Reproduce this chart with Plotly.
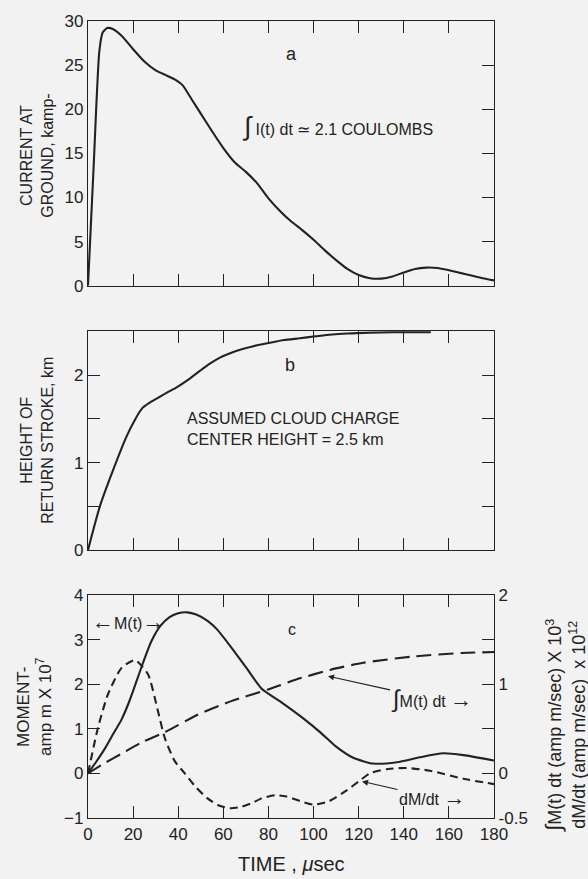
import plotly.graph_objects as go

# ---------------- data ----------------
# panel a: current at ground (kA) vs time (microsec)
t_a = [0, 2.5, 5, 6.5, 8.5, 11, 15, 20, 25, 30, 35, 39, 42, 46, 50, 55, 60, 65, 70, 75, 80,
       85, 90, 95, 100, 105, 110, 115, 120, 125, 130, 135, 140, 145, 150, 155, 160, 165, 170,
       175, 180]
I_a = [0, 13.5, 26.5, 28.7, 29.2, 29.1, 28.3, 26.8, 25.4, 24.4, 23.8, 23.3, 22.7, 21.1, 19.5,
       17.5, 15.6, 14.0, 12.9, 11.6, 9.9, 8.5, 7.3, 6.3, 5.2, 4.0, 2.9, 1.9, 1.2, 0.85, 0.8,
       1.05, 1.5, 1.9, 2.05, 2.0, 1.75, 1.45, 1.15, 0.85, 0.6]

# panel b: height of return stroke (km)
t_b = [0, 2, 5.3, 11.2, 17.1, 21, 24, 27, 31, 35, 39.3, 44, 49.7, 54, 58.5, 63, 68.9, 75,
       80.7, 87, 94, 100, 107, 115, 125, 135, 145, 152]
h_b = [0, 0.2, 0.505, 0.92, 1.30, 1.50, 1.62, 1.68, 1.74, 1.80, 1.86, 1.94, 2.05, 2.13, 2.20,
       2.25, 2.30, 2.34, 2.37, 2.40, 2.42, 2.44, 2.46, 2.475, 2.485, 2.49, 2.49, 2.49]

# panel c: moment M(t) (amp m x 1e7)
t_M = [0, 3.5, 7.4, 11, 14.8, 17.8, 20.7, 24.4, 28, 32, 36, 40, 44, 48, 53, 57, 63, 70, 77,
       85, 95, 103, 110, 117.6, 126.5, 137, 147, 157.5, 166.4, 180]
M_t = [0, 0.25, 0.55, 0.87, 1.2, 1.55, 1.95, 2.48, 2.95, 3.3, 3.5, 3.59, 3.61, 3.56, 3.42,
       3.24, 2.86, 2.38, 1.9, 1.62, 1.25, 0.92, 0.6, 0.35, 0.22, 0.25, 0.36, 0.45, 0.41, 0.29]

# panel c: dM/dt (right axis units)
t_d = [0, 4.4, 8.9, 14.8, 20.8, 26.6, 31, 34, 38.4, 42.9, 48, 53, 58, 63, 67, 72, 77, 83, 88,
       94, 100, 107, 114.7, 120, 125, 133, 141.3, 151.6, 166.4, 180]
dM_dt = [0, 0.51, 0.89, 1.18, 1.27, 1.11, 0.70, 0.40, 0.14, 0.0, -0.16, -0.28, -0.36, -0.39,
         -0.38, -0.34, -0.28, -0.245, -0.26, -0.31, -0.35, -0.31, -0.19, -0.09, 0.0, 0.05,
         0.06, 0.03, -0.06, -0.12]

# panel c: integral of M(t) dt (right axis units)
t_i = [0, 7, 14.8, 24, 34, 48.8, 63.5, 79.8, 92, 107.3, 122, 144, 166, 180]
int_M = [0, 0.11, 0.22, 0.35, 0.46, 0.66, 0.81, 0.94, 1.05, 1.16, 1.24, 1.31, 1.35, 1.36]

x_ticks = [0, 20, 40, 60, 80, 100, 120, 140, 160, 180]
x_ticklabels = ["0", "20", "40", "60", "80", "100", "120", "140", "160", "180"]
ya_ticks = [0, 5, 10, 15, 20, 25, 30]
yb_ticks = [0, 1, 2]
yb_minor = [0.5, 1.5, 2.5]
yc_ticks = [-1, 0, 1, 2, 3, 4]
yr_ticks = [-0.5, 0, 1, 2]
yr_labels = ["-0.5", "0", "1", "2"]
yr_minor = [0.5, 1.5]

# ---------------- style ----------------
INK = "#222222"
BG = "#f2f2f2"
FONT = "Liberation Sans"
W, H = 588, 879
ML, MR, MT, MB = 88, 94, 14, 61
PW, PH = W - ML - MR, H - MT - MB


def px_x(px):
    return (px - ML) / PW


def px_y(py):
    return (H - MB - py) / PH


line_kw = dict(color=INK, width=2.1, shape="spline", smoothing=0.6)

fig = go.Figure()
fig.add_trace(go.Scatter(x=t_a, y=I_a, mode="lines", line=line_kw, xaxis="x3", yaxis="y3",
                         hoverinfo="skip"))
fig.add_trace(go.Scatter(x=[], y=[], mode="lines", xaxis="x3", yaxis="y5", hoverinfo="skip"))
fig.add_trace(go.Scatter(x=t_b, y=h_b, mode="lines", line=line_kw, xaxis="x2", yaxis="y2",
                         hoverinfo="skip"))
fig.add_trace(go.Scatter(x=t_M, y=M_t, mode="lines", line=line_kw, xaxis="x", yaxis="y",
                         hoverinfo="skip"))
fig.add_trace(go.Scatter(x=t_d, y=dM_dt, mode="lines", xaxis="x", yaxis="y4", hoverinfo="skip",
                         line=dict(color=INK, width=2.1, dash="8px,5px", shape="spline",
                                   smoothing=0.6)))
fig.add_trace(go.Scatter(x=t_i, y=int_M, mode="lines", xaxis="x", yaxis="y4", hoverinfo="skip",
                         line=dict(color=INK, width=2.1, dash="15px,7px", shape="spline",
                                   smoothing=0.6)))

dom_c = [0, px_y(593)]
dom_b = [px_y(548), px_y(327)]
dom_a = [px_y(281), 1]

minor_kw = dict(ticks="inside", ticklen=12, tickwidth=1.2, tickcolor=INK, tickmode="array")
xbase = dict(range=[0, 180], tickvals=x_ticks, ticks="inside", ticklen=12, tickwidth=1.2,
             tickcolor=INK, showline=True, linecolor=INK, linewidth=1.3, mirror="ticks",
             showgrid=False, zeroline=False, fixedrange=True)
ybase = dict(ticks="inside", ticklen=12, tickwidth=1.2, tickcolor=INK, showline=True,
             linecolor=INK, linewidth=1.3, showgrid=False, zeroline=False,
             tickfont=dict(size=17, color=INK, family=FONT))

fig.update_layout(
    width=W, height=H,
    margin=dict(l=ML, r=MR, t=MT, b=MB),
    paper_bgcolor=BG, plot_bgcolor=BG,
    showlegend=False,
    font=dict(family=FONT, color=INK, size=17),
    xaxis=dict(**xbase, anchor="y", ticktext=x_ticklabels, tickmode="array",
               tickfont=dict(size=17, color=INK, family=FONT)),
    xaxis2=dict(**xbase, anchor="y2", showticklabels=False),
    xaxis3=dict(**xbase, anchor="y3", showticklabels=False),
    yaxis=dict(**ybase, domain=dom_c, anchor="x", range=[-1, 4], tickvals=yc_ticks),
    yaxis4=dict(**ybase, overlaying="y", side="right", anchor="x", range=[-0.5, 2],
                tickvals=yr_ticks, ticktext=yr_labels,
                minor=dict(**minor_kw, tickvals=yr_minor)),
    yaxis2=dict(**ybase, domain=dom_b, anchor="x2", range=[0, 2.5], tickvals=yb_ticks,
                mirror="ticks", minor=dict(**minor_kw, tickvals=yb_minor)),
    yaxis3=dict(**{**ybase, "ticks": ""}, domain=dom_a, anchor="x3", range=[0, 30],
                tickvals=ya_ticks, mirror=True),
    yaxis5=dict(**ybase, overlaying="y3", side="right", anchor="x3", range=[0, 30],
                tickvals=ya_ticks, showticklabels=False),
)

ann = []


def text(x, y, s, xref, yref, size=17, xanchor="center", align="center", angle=0):
    ann.append(dict(x=x, y=y, xref=xref, yref=yref, text=s, showarrow=False, xanchor=xanchor,
                    yanchor="middle", align=align, textangle=angle,
                    font=dict(size=size, color=INK, family=FONT)))


def pointer(x, y, ax, ay, s, size=16):
    # text placed at pixel offset (ax, ay) from the point, with a leader arrow to the point
    ann.append(dict(x=x, y=y, xref="x", yref="y", ax=ax, ay=ay, text=s, showarrow=True,
                    arrowhead=2, arrowsize=1, arrowwidth=1.2, arrowcolor=INK,
                    font=dict(size=size, color=INK, family=FONT)))


LA = "<span style='font-size:22px'>←</span>"
RA = "<span style='font-size:22px'>→</span>"

# axis titles
text(px_x(37), px_y(150), "CURRENT AT<br>GROUND, kamp-", "paper", "paper", 16, angle=-90)
text(px_x(37.5), px_y(437), "HEIGHT OF<br>RETURN STROKE, km", "paper", "paper", 16, angle=-90)
text(px_x(35), px_y(706), "MOMENT-<br>amp m X 10<sup>7</sup>", "paper", "paper", 17, angle=-90)
text(px_x(565), px_y(725),
     "<span style='font-size:22px'>∫</span>M(t) dt (amp m/sec) X 10<sup>3</sup><br>"
     "dM/dt (amp m/sec)  x 10<sup>12</sup>", "paper", "paper", 18, angle=-90)
text(px_x(291), px_y(864), "TIME , <i>μ</i>sec", "paper", "paper", 20)

# panel a
text(90.4, 26.3, "a", "x3", "y3", 18)
text(67.4, 18.1, "<span style='font-size:26px'>∫</span> I(t) dt ≃ 2.1 COULOMBS", "x3", "y3", 16,
     xanchor="left")
# panel b
text(89.6, 2.12, "b", "x2", "y2", 18)
text(43, 1.39, "ASSUMED CLOUD CHARGE<br>CENTER HEIGHT = 2.5 km", "x2", "y2", 16,
     xanchor="left", align="left")
# panel c
text(90.4, 3.22, "c", "x", "y", 16)
text(0.8, 3.4, LA + "M(t)" + RA, "x", "y", 16, xanchor="left")
pointer(106.4, 2.18, 104, 23, "<span style='font-size:24px'>∫</span>M(t) dt " + RA)
pointer(121.5, -0.18, 70, 16, "dM/dt " + RA)

fig.update_layout(annotations=ann)
fig.write_html("out.html")
